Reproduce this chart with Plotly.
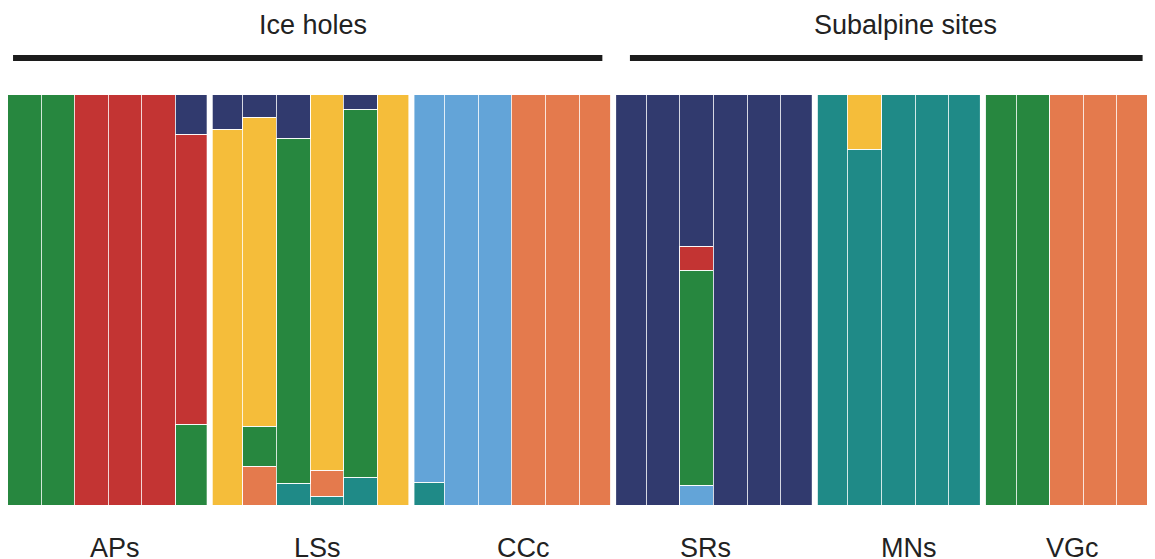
import plotly.graph_objects as go

# ---------------- data ----------------
populations = ["APs", "LSs", "CCc", "SRs", "MNs", "VGc"]
pop_sizes = [6, 6, 6, 6, 5, 5]
regions = ["Ice holes", "Subalpine sites"]
region_pops = [3, 3]  # number of populations in each region

# ancestry proportions per individual (34 individuals), clusters listed bottom -> top
teal = [0, 0, 0, 0, 0, 0,
        0, 0, 0.054, 0.023, 0.069, 0,
        0.055, 0, 0, 0, 0, 0,
        0, 0, 0, 0, 0, 0,
        1, 0.865, 1, 1, 1,
        0, 0, 0, 0, 0]
light_blue = [0, 0, 0, 0, 0, 0,
              0, 0, 0, 0, 0, 0,
              0.945, 1, 1, 0, 0, 0,
              0, 0, 0.049, 0, 0, 0,
              0, 0, 0, 0, 0,
              0, 0, 0, 0, 0]
orange = [0, 0, 0, 0, 0, 0,
          0, 0.096, 0, 0.063, 0, 0,
          0, 0, 0, 1, 1, 1,
          0, 0, 0, 0, 0, 0,
          0, 0, 0, 0, 0,
          0, 0, 1, 1, 1]
green = [1, 1, 0, 0, 0, 0.196,
         0, 0.097, 0.840, 0, 0.894, 0,
         0, 0, 0, 0, 0, 0,
         0, 0, 0.524, 0, 0, 0,
         0, 0, 0, 0, 0,
         1, 1, 0, 0, 0]
red = [0, 0, 1, 1, 1, 0.707,
       0, 0, 0, 0, 0, 0,
       0, 0, 0, 0, 0, 0,
       0, 0, 0.058, 0, 0, 0,
       0, 0, 0, 0, 0,
       0, 0, 0, 0, 0]
yellow = [0, 0, 0, 0, 0, 0,
          0.916, 0.751, 0, 0.914, 0, 1,
          0, 0, 0, 0, 0, 0,
          0, 0, 0, 0, 0, 0,
          0, 0.135, 0, 0, 0,
          0, 0, 0, 0, 0]
navy = [0, 0, 0, 0, 0, 0.097,
        0.084, 0.056, 0.106, 0, 0.037, 0,
        0, 0, 0, 0, 0, 0,
        1, 1, 0.369, 1, 1, 1,
        0, 0, 0, 0, 0,
        0, 0, 0, 0, 0]

# ---------------- styles ----------------
clusters = [
    (teal, "#1f8a87"),
    (light_blue, "#63a4d8"),
    (orange, "#e47a4d"),
    (green, "#27873f"),
    (red, "#c33433"),
    (yellow, "#f5bd3a"),
    (navy, "#313a6e"),
]
FONT = "Liberation Sans, Arial, Helvetica, sans-serif"
TEXT_COLOR = "#222222"
label_xshift = [6, 7, 11, -8, 10, 6]
region_title_xshift = [2, 23]
region_line_inset = [(0.15, 0.32), (0.5, 0.25)]

n = sum(pop_sizes)
xs = list(range(n))

fig = go.Figure()
for vals, col in clusters:
    fig.add_trace(go.Bar(
        x=xs, y=[v if v > 0 else None for v in vals],
        marker=dict(color=col, line=dict(color="rgba(255,255,255,0.8)", width=1.2)),
        width=1.0, hoverinfo="skip",
    ))

# group boundaries
bounds = []
c = 0
for s in pop_sizes:
    bounds.append((c - 0.5, c + s - 0.5))
    c += s

shapes = []
for (a, b) in bounds[:-1]:
    shapes.append(dict(type="line", xref="x", yref="paper", x0=b, x1=b, y0=-0.01, y1=1.01,
                       line=dict(color="white", width=6), layer="above"))

annotations = []
for i, p in enumerate(populations):
    a, b = bounds[i]
    annotations.append(dict(x=(a + b) / 2, y=-0.101, xref="x", yref="paper", text=p,
                            showarrow=False, xanchor="center", yanchor="middle",
                            xshift=label_xshift[i],
                            font=dict(family=FONT, size=27, color=TEXT_COLOR)))

gi = 0
for r, name in enumerate(regions):
    a = bounds[gi][0]
    b = bounds[gi + region_pops[r] - 1][1]
    gi += region_pops[r]
    li, ri = region_line_inset[r]
    shapes.append(dict(type="line", xref="x", yref="paper", x0=a + li, x1=b - ri, y0=1.09, y1=1.09,
                       line=dict(color="#1c1c1c", width=6)))
    annotations.append(dict(x=(a + b) / 2, y=1.17, xref="x", yref="paper", text=name,
                            showarrow=False, xanchor="center", yanchor="middle",
                            xshift=region_title_xshift[r],
                            font=dict(family=FONT, size=27, color=TEXT_COLOR)))

fig.update_layout(
    width=1147, height=551,
    margin=dict(l=0, r=4, t=87, b=53),
    barmode="stack", bargap=0,
    showlegend=False,
    plot_bgcolor="white", paper_bgcolor="white",
    xaxis=dict(range=[-0.5, n - 0.5], visible=False, fixedrange=True),
    yaxis=dict(range=[0, 1], visible=False, fixedrange=True),
    shapes=shapes, annotations=annotations,
)

fig.write_html("out.html")
